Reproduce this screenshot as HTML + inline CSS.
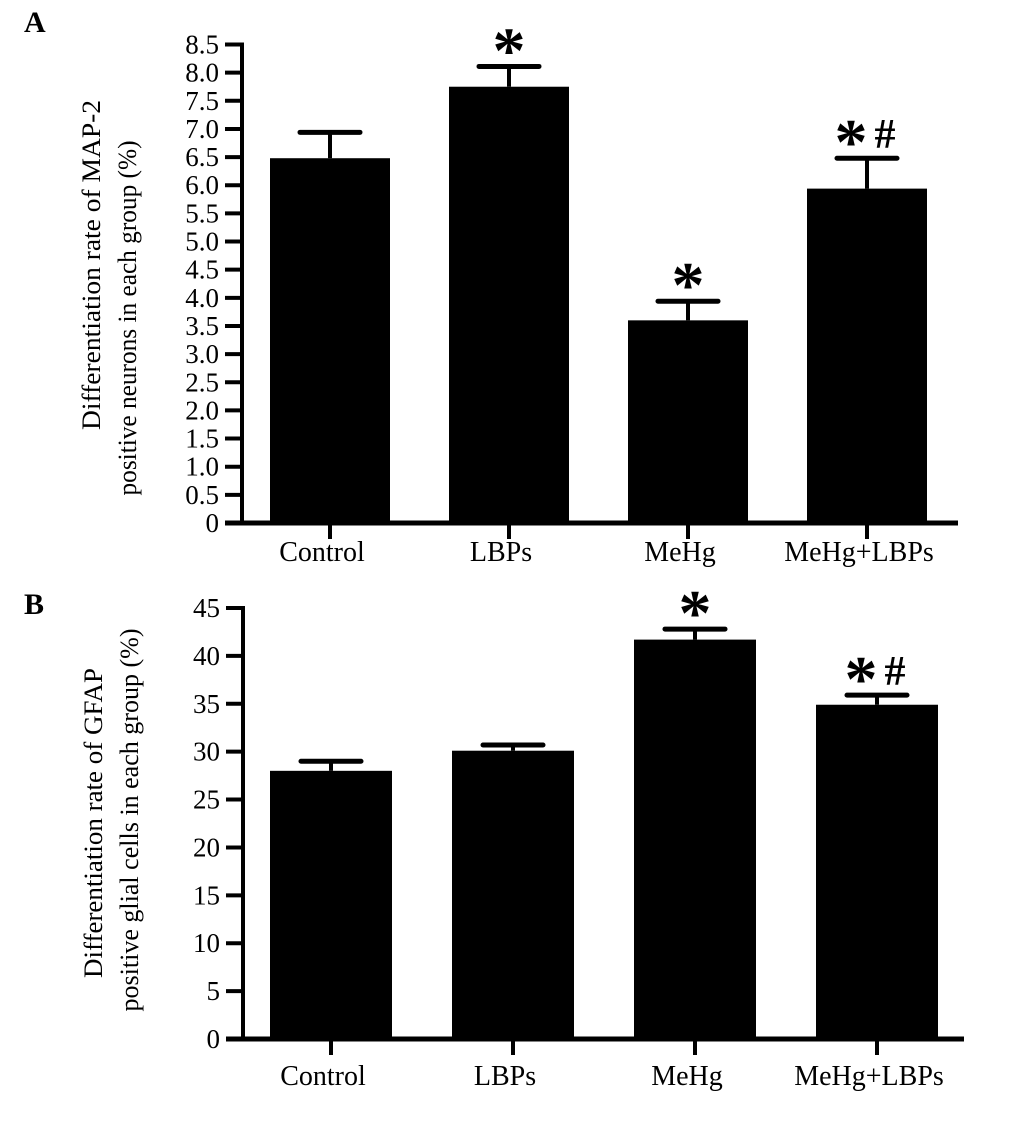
<!DOCTYPE html>
<html><head><meta charset="utf-8"><style>
html,body{margin:0;padding:0;background:#fff;}
svg text{font-family:"Liberation Serif",serif;fill:#000;}
</style></head><body>
<svg id="c" width="1033" height="1141" xmlns="http://www.w3.org/2000/svg">
<text x="24" y="32" font-size="30" font-weight="bold">A</text>
<text x="24" y="614" font-size="30" font-weight="bold">B</text>
<text transform="translate(100,265) rotate(-90)" text-anchor="middle" font-size="26" textLength="330" lengthAdjust="spacingAndGlyphs">Differentiation rate of MAP-2</text>
<text transform="translate(136,318) rotate(-90)" text-anchor="middle" font-size="26" textLength="355" lengthAdjust="spacingAndGlyphs">positive neurons in each group (%)</text>
<text transform="translate(102,823) rotate(-90)" text-anchor="middle" font-size="26" textLength="310" lengthAdjust="spacingAndGlyphs">Differentiation rate of  GFAP</text>
<text transform="translate(138,820) rotate(-90)" text-anchor="middle" font-size="26" textLength="383" lengthAdjust="spacingAndGlyphs">positive glial  cells in each group (%)</text>
</svg>
<script>
const categories = ["Control","LBPs","MeHg","MeHg+LBPs"];
const valuesA = [6.48, 7.75, 3.6, 5.94];
const errorsA = [6.94, 8.11, 3.94, 6.48];
const marksA = ["", "*", "*", "*#"];
const ticksA = ["0","0.5","1.0","1.5","2.0","2.5","3.0","3.5","4.0","4.5","5.0","5.5","6.0","6.5","7.0","7.5","8.0","8.5"];
const valuesB = [28.0, 30.1, 41.7, 34.9];
const errorsB = [29.0, 30.7, 42.8, 35.9];
const marksB = ["", "", "*", "*#"];
const ticksB = ["0","5","10","15","20","25","30","35","40","45"];

const svg = document.getElementById('c');
const NS = "http://www.w3.org/2000/svg";
function mk(tag, attrs){const e=document.createElementNS(NS,tag);for(const k in attrs)e.setAttribute(k,attrs[k]);svg.appendChild(e);return e;}

function panel(p, vals, errs, marks, ticks, tickStep, yMax, y0, yTop, x0, xEnd, c0, spacing, bw, labDy){
  const ys = v => y0 - (v / yMax) * (y0 - yTop);
  const xs = i => c0 + i * spacing;
  const ya = mk('line',{x1:x0,y1:yTop-2,x2:x0,y2:y0+2,stroke:'#000','stroke-width':4});
  
  
  const xa = mk('line',{x1:x0-17,y1:y0,x2:xEnd,y2:y0,stroke:'#000','stroke-width':5});
  
  
  ticks.forEach((t,i)=>{
    const y = ys(i*tickStep);
    const tk = mk('line',{x1:x0-17,y1:y,x2:x0,y2:y,stroke:'#000','stroke-width':4});
    
    
    const tl = mk('text',{x:x0-23,y:y+9,'text-anchor':'end','font-size':27});
    tl.textContent = t;
    
    
  });
  categories.forEach((c,i)=>{
    const cx = xs(i);
    const top = ys(vals[i]);
    const b = mk('rect',{x:cx-bw/2,y:top,width:bw,height:y0-top,fill:'#000'});
    
    
    const ey = ys(errs[i]);
    const el = mk('line',{x1:cx,y1:top,x2:cx,y2:ey,stroke:'#000','stroke-width':4});
    
    
    const cap = mk('line',{x1:cx-30,y1:ey,x2:cx+30,y2:ey,stroke:'#000','stroke-width':5,'stroke-linecap':'round'});
    
    
    const xt = mk('line',{x1:cx,y1:y0,x2:cx,y2:y0+16,stroke:'#000','stroke-width':4});
    
    
    const xl = mk('text',{x:cx-8,y:y0+38+labDy,'text-anchor':'middle','font-size':28});
    xl.textContent = c;
    
    
    if (marks[i]) {
      const hasHash = marks[i].indexOf('#') >= 0;
      const sx = hasHash ? cx - 16 : cx;
      const m = mk('text',{x:sx,y:ey+6,'text-anchor':'middle','font-size':66,'font-weight':'bold','font-family':'"Liberation Sans",sans-serif'});
      m.textContent = '*';
      
      
      if (hasHash) {
        const h = mk('text',{x:cx+18,y:ey-10,'text-anchor':'middle','font-size':42,'font-weight':'bold','font-family':'"Liberation Serif",serif'});
        h.textContent = '#';
        
        
      }
    }
  });
}
panel('a', valuesA, errorsA, marksA, ticksA, 0.5, 8.5, 523, 44.5, 242, 958, 330, 179, 120, 0);
panel('b', valuesB, errorsB, marksB, ticksB, 5, 45, 1039, 608, 243, 964, 331, 182, 122, 8);
</script>
</body></html>
